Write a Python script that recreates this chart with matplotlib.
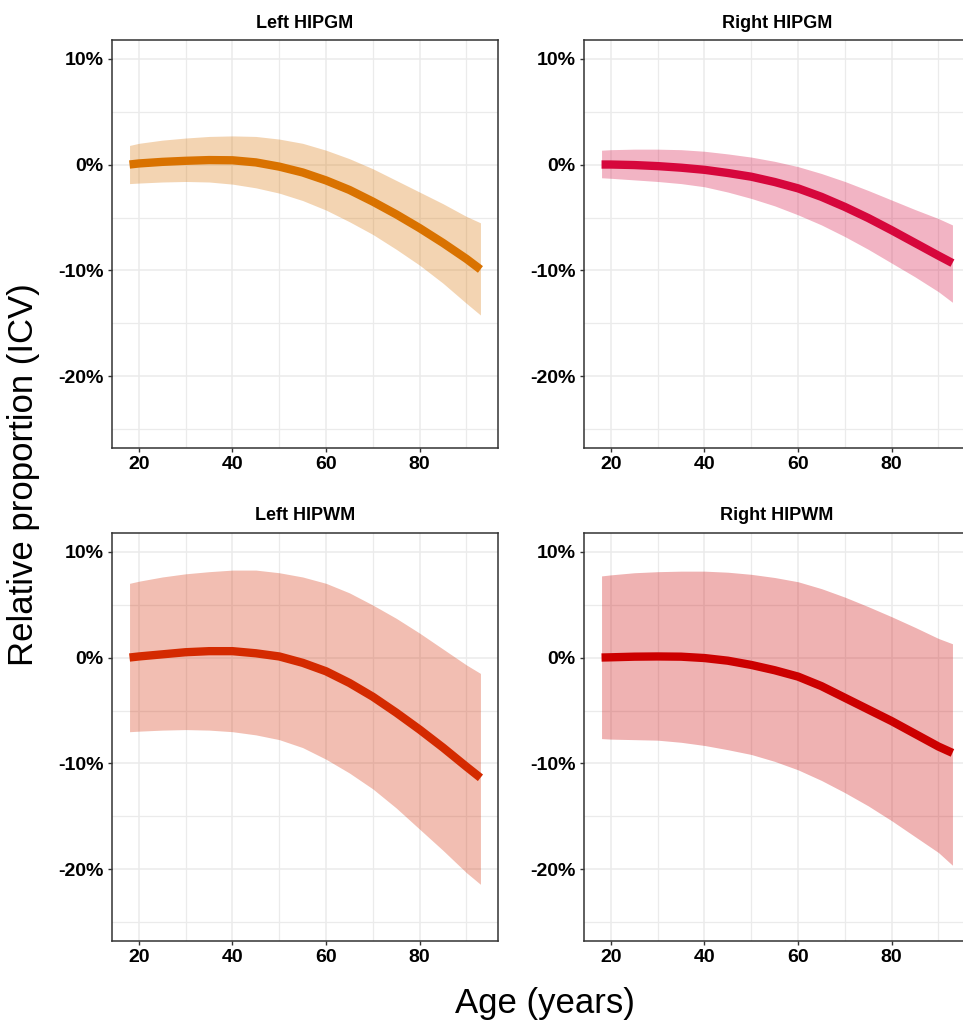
import matplotlib
matplotlib.use("Agg")
import matplotlib.pyplot as plt
from matplotlib.ticker import MultipleLocator, FuncFormatter

plt.rcParams['font.family'] = ['Liberation Sans', 'DejaVu Sans']

# ---- data ----
age = [18, 20, 25, 30, 35, 40, 45, 50, 55, 60, 65, 70, 75, 80, 85, 90, 93]

titles = ["Left HIPGM", "Right HIPGM", "Left HIPWM", "Right HIPWM"]
line_colors = ["#D97200", "#D6073C", "#D42A00", "#CC0000"]

left_gm_fit = [0.0, 0.1, 0.25, 0.35, 0.42, 0.4, 0.2, -0.2, -0.75, -1.5, -2.4, -3.5, -4.7, -6.0, -7.4, -8.9, -9.9]
left_gm_hi = [1.8, 2.0, 2.3, 2.5, 2.65, 2.7, 2.65, 2.4, 2.0, 1.35, 0.55, -0.4, -1.5, -2.6, -3.7, -4.9, -5.5]
left_gm_lo = [-1.8, -1.75, -1.65, -1.6, -1.65, -1.85, -2.2, -2.7, -3.4, -4.3, -5.4, -6.6, -8.0, -9.5, -11.2, -13.1, -14.2]

right_gm_fit = [0.0, 0.0, -0.05, -0.15, -0.3, -0.5, -0.8, -1.15, -1.65, -2.25, -3.05, -4.0, -5.05, -6.2, -7.4, -8.6, -9.3]
right_gm_hi = [1.35, 1.4, 1.45, 1.45, 1.4, 1.25, 1.0, 0.7, 0.3, -0.2, -0.85, -1.6, -2.45, -3.35, -4.25, -5.1, -5.7]
right_gm_lo = [-1.25, -1.3, -1.45, -1.6, -1.8, -2.1, -2.6, -3.2, -3.9, -4.75, -5.7, -6.8, -8.0, -9.3, -10.6, -12.0, -13.0]

left_wm_fit = [0.0, 0.1, 0.3, 0.5, 0.6, 0.6, 0.4, 0.1, -0.5, -1.3, -2.4, -3.7, -5.2, -6.8, -8.5, -10.3, -11.35]
left_wm_hi = [7.0, 7.2, 7.6, 7.9, 8.1, 8.25, 8.25, 8.0, 7.6, 7.0, 6.1, 4.95, 3.7, 2.3, 0.8, -0.7, -1.5]
left_wm_lo = [-7.0, -6.95, -6.85, -6.8, -6.85, -7.0, -7.3, -7.75, -8.5, -9.6, -10.9, -12.4, -14.2, -16.2, -18.2, -20.3, -21.4]

right_wm_fit = [0.0, 0.02, 0.08, 0.1, 0.08, -0.05, -0.3, -0.7, -1.2, -1.8, -2.7, -3.8, -4.9, -6.0, -7.2, -8.4, -9.0]
right_wm_hi = [7.7, 7.8, 8.0, 8.1, 8.15, 8.15, 8.05, 7.85, 7.55, 7.15, 6.5, 5.7, 4.8, 3.85, 2.85, 1.8, 1.3]
right_wm_lo = [-7.65, -7.7, -7.75, -7.8, -8.0, -8.3, -8.7, -9.15, -9.8, -10.6, -11.6, -12.75, -14.0, -15.4, -16.9, -18.4, -19.6]

fits = [left_gm_fit, right_gm_fit, left_wm_fit, right_wm_fit]
his = [left_gm_hi, right_gm_hi, left_wm_hi, right_wm_hi]
los = [left_gm_lo, right_gm_lo, left_wm_lo, right_wm_lo]

x_ticks = [20, 40, 60, 80]
y_ticks = [-20, -10, 0, 10]

# ---- figure ----
fig = plt.figure(figsize=(9.63, 10.26), dpi=100)

W, H = 963, 1026
boxes = [(112, 40), (584, 40), (112, 533), (584, 533)]
aw, ah = 386, 408

for i, (px, py) in enumerate(boxes):
    ax = fig.add_axes([px / W, 1 - (py + ah) / H, aw / W, ah / H])
    col = line_colors[i]
    ax.fill_between(age, los[i], his[i], color=col, alpha=0.3, linewidth=0, zorder=2)
    ax.plot(age, fits[i], color=col, linewidth=6, solid_capstyle='butt', zorder=3)

    ax.set_xlim(14.25, 96.75)
    ax.set_ylim(-26.75, 11.75)
    ax.set_xticks(x_ticks)
    ax.set_yticks(y_ticks)
    ax.xaxis.set_minor_locator(MultipleLocator(10))
    ax.yaxis.set_minor_locator(MultipleLocator(5))
    ax.yaxis.set_major_formatter(FuncFormatter(lambda v, p: f"{int(v)}%"))
    ax.grid(which='major', color='#EBEBEB', linewidth=1.1, zorder=0)
    ax.grid(which='minor', color='#EBEBEB', linewidth=0.9, zorder=0)
    ax.set_axisbelow(True)
    ax.tick_params(axis='both', which='major', length=3, width=1, color='#333333',
                   labelsize=14, pad=3)
    ax.tick_params(axis='both', which='minor', length=0)
    for lab in ax.get_xticklabels() + ax.get_yticklabels():
        lab.set_fontweight('bold')
    for s in ax.spines.values():
        s.set_color('#333333')
        s.set_linewidth(1.1)
    if px + aw > W:
        ax.spines['right'].set_visible(False)
    ax.set_title(titles[i], fontsize=13, fontweight='bold', pad=9)

fig.text(0.566, 0.006, "Age (years)", fontsize=25, ha='center', va='bottom')
fig.text(0.024, 0.537, "Relative proportion (ICV)", fontsize=25, ha='center', va='center',
         rotation=90)

fig.savefig("out.png", dpi=100)
